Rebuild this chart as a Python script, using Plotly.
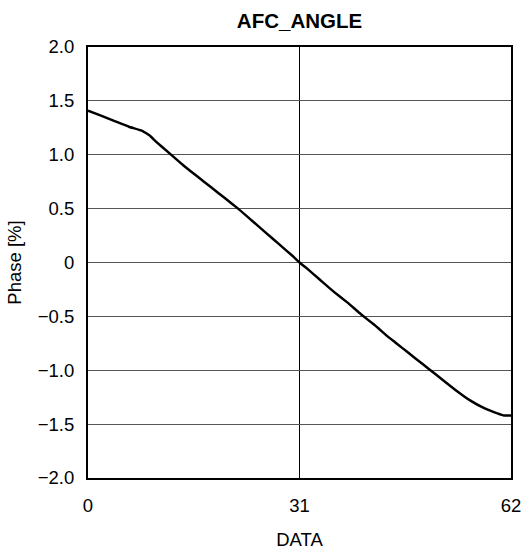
import plotly.graph_objects as go

x_data = [0, 2, 4, 6, 8, 9, 10, 12, 14, 16, 18, 20, 22, 24, 26, 28, 30, 31, 32, 34, 36, 38, 40, 42, 44, 45, 46, 48, 50, 52, 54, 56, 58, 60, 61, 62]
phase = [1.41, 1.36, 1.31, 1.26, 1.22, 1.18, 1.12, 1.01, 0.90, 0.80, 0.70, 0.60, 0.50, 0.39, 0.28, 0.17, 0.06, 0.0, -0.05, -0.16, -0.27, -0.37, -0.48, -0.58, -0.69, -0.74, -0.79, -0.89, -0.99, -1.09, -1.19, -1.28, -1.35, -1.40, -1.42, -1.42]

x_ticks = [0, 31, 62]
x_ticklabels = ["0", "31", "62"]
y_ticks = [-2.0, -1.5, -1.0, -0.5, 0, 0.5, 1.0, 1.5, 2.0]
y_ticklabels = ["\u22122.0", "\u22121.5", "\u22121.0", "\u22120.5", "0", "0.5", "1.0", "1.5", "2.0"]

fig = go.Figure()
fig.add_trace(go.Scatter(x=x_data, y=phase, mode="lines",
                         line=dict(color="black", width=2.5, shape="spline", smoothing=0.3),
                         showlegend=False, hoverinfo="skip"))

FAM = "Liberation Sans, Arial, sans-serif"
font = dict(family=FAM, size=18.5, color="black")

fig.update_layout(
    width=532, height=554,
    margin=dict(l=88, r=21, t=47, b=76, autoexpand=False),
    paper_bgcolor="white", plot_bgcolor="white",
    font=font,
    title=dict(text="<b>AFC_ANGLE</b>", x=(88 + 511) / 2 / 532, xanchor="center",
               y=1 - 21 / 554, yanchor="middle",
               font=dict(size=20.5, color="black", family=FAM)),
)
fig.update_xaxes(range=[0, 62], tickmode="array", tickvals=x_ticks, ticktext=x_ticklabels,
                 showgrid=True, gridcolor="black", gridwidth=1,
                 showline=True, linecolor="black", linewidth=2, mirror=True,
                 ticks="", ticklabelstandoff=10, zeroline=False, tickfont=font,
                 automargin=False,
                 title=dict(text="DATA", standoff=18, font=font))
fig.update_yaxes(range=[-2, 2], tickmode="array", tickvals=y_ticks, ticktext=y_ticklabels,
                 showgrid=True, gridcolor="#555555", gridwidth=1,
                 showline=True, linecolor="black", linewidth=2, mirror=True,
                 ticks="", ticklabelstandoff=8, zeroline=False, tickfont=font,
                 automargin=False,
                 title=dict(text="Phase [%]", standoff=11, font=font))

fig.write_html("out.html", config={"displayModeBar": False},
               post_script="document.body.style.margin='0';")
